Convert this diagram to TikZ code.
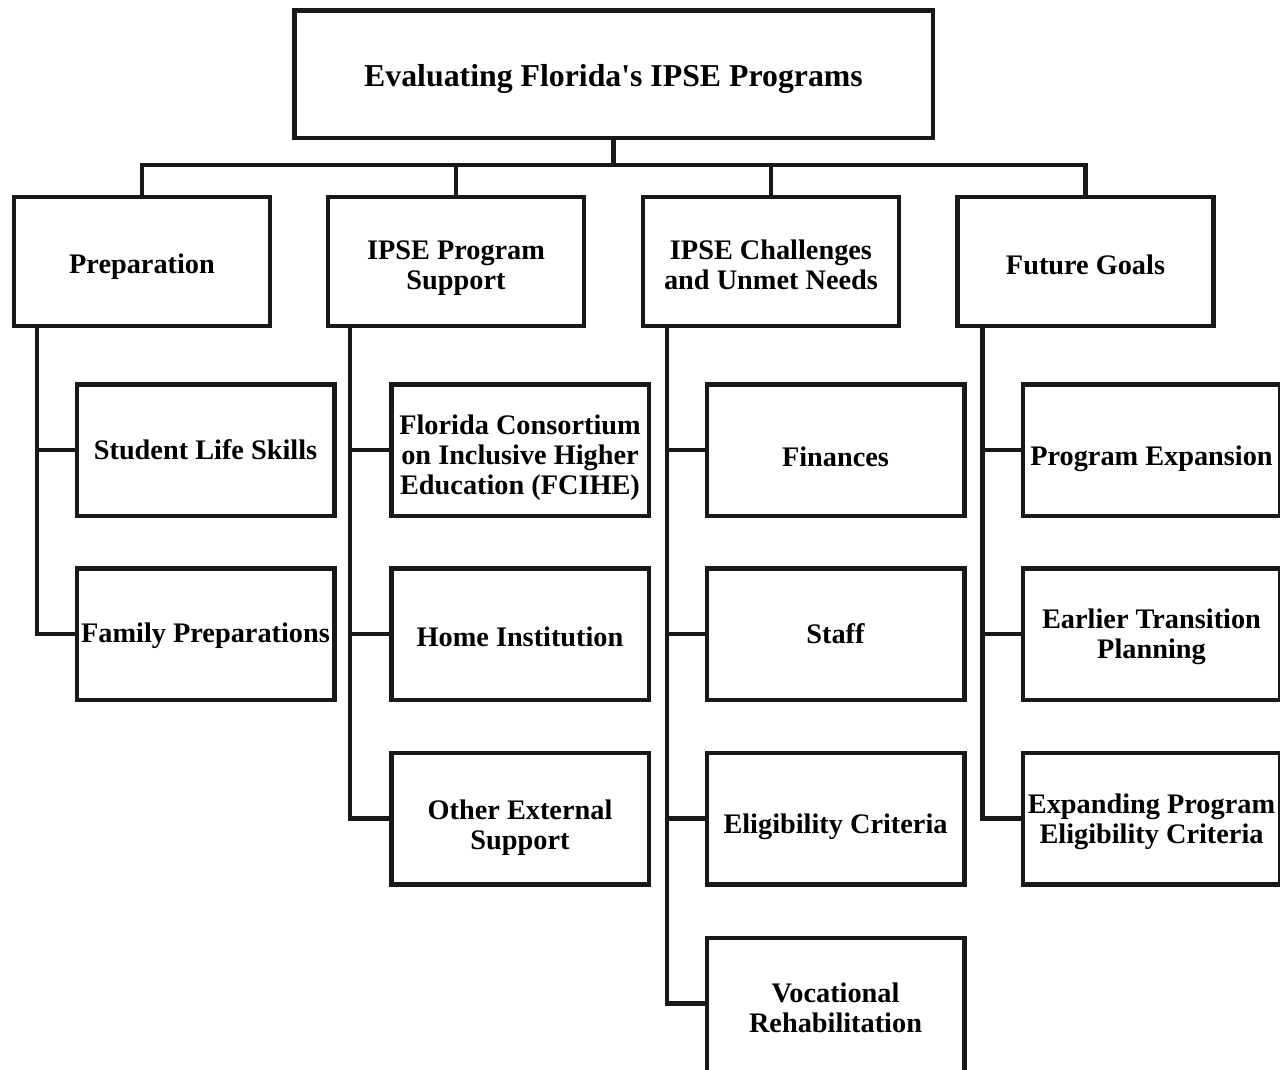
\documentclass[tikz,border=0pt]{standalone}
\usepackage{fontspec}
\setmainfont{Liberation Serif}[Ligatures=TeXOff]
\begin{document}
\begin{tikzpicture}[x=1pt,y=-1pt,
  box/.style={draw=black!90, line width=4.5pt, inner sep=0pt},
  lab/.style={align=center, inner sep=0pt, font=\bfseries\fontsize{28.3}{30}\selectfont},
  say/.style 2 args={label={[lab,yshift=-#1pt]center:{#2}}},
  lvl/.style={box, minimum width=256pt, minimum height=129pt},
  leaf/.style={box, minimum width=257.5pt, minimum height=131.5pt},
  conn/.style={draw=black!90, line width=4.5pt, line cap=rect, line join=miter}]
\useasboundingbox (0,0) rectangle (1280,1069);
\clip (0,0) rectangle (1280,1069);
\node[box, minimum width=638.5pt, minimum height=127.5pt,
  label={[lab,yshift=-5pt,font=\bfseries\fontsize{31.8}{33}\selectfont]center:{Evaluating Florida's IPSE Programs}}] (top) at (613.5,74) {};
\node[lvl, say={5.5}{Preparation}] (prep) at (142,261.5) {};
\node[lvl, say={7}{IPSE Program\\Support}] (sup) at (456,261.5) {};
\node[lvl, say={3}{IPSE Challenges\\and Unmet Needs}] (chal) at (771,261.5) {};
\node[lvl, say={3.5}{Future Goals}] (fut) at (1085.5,261.5) {};
% leaves
\node[leaf, say={0}{Student Life Skills}] (sls) at (205.5,450) {};
\node[leaf, say={2}{Family Preparations}] (fam) at (205.5,634) {};
\node[leaf, say={8}{Florida Consortium\\on Inclusive Higher\\Education (FCIHE)}] (fci) at (520,450) {};
\node[leaf, say={3}{Home Institution}] (home) at (520,634) {};
\node[leaf, say={9}{Other External\\Support}] (oth) at (520,818.5) {};
\node[leaf, say={7}{Finances}] (fin) at (835.5,450) {};
\node[leaf, say={0}{Staff}] (staff) at (835.5,634) {};
\node[leaf, say={8}{Eligibility Criteria}] (elig) at (835.5,818.5) {};
\node[leaf, minimum height=140pt, say={0}{Vocational\\Rehabilitation}] (voc) at (835.5,1007.75) {};
\node[leaf, say={9}{Program Expansion}] (exp) at (1151.5,450) {};
\node[leaf, say={3}{Earlier Transition\\Planning}] (ear) at (1151.5,634) {};
\node[leaf, say={3}{Expanding Program\\Eligibility Criteria}] (expel) at (1151.5,818.5) {};
% bus
\coordinate (bus) at (613.5,165);
\foreach \c in {prep,sup,chal,fut}{
  \draw[conn] (top.south) -- (bus) -| (\c.north);
}
% vertical spines
\coordinate (pv) at ([xshift=25pt]prep.south west);
\coordinate (sv) at ([xshift=24pt]sup.south west);
\coordinate (cv) at ([xshift=26pt]chal.south west);
\coordinate (fv) at ([xshift=27pt]fut.south west);
\draw[conn] (pv) |- (fam.west);
\draw[conn] (sls.west) -- (sls.west -| pv);
\draw[conn] (sv) |- (oth.west);
\draw[conn] (fci.west) -- (fci.west -| sv);
\draw[conn] (home.west) -- (home.west -| sv);
\draw[conn] (cv) |- ([yshift=4.5pt]voc.west);
\draw[conn] (fin.west) -- (fin.west -| cv);
\draw[conn] (staff.west) -- (staff.west -| cv);
\draw[conn] (elig.west) -- (elig.west -| cv);
\draw[conn] (fv) |- (expel.west);
\draw[conn] (exp.west) -- (exp.west -| fv);
\draw[conn] (ear.west) -- (ear.west -| fv);
\end{tikzpicture}
\end{document}
